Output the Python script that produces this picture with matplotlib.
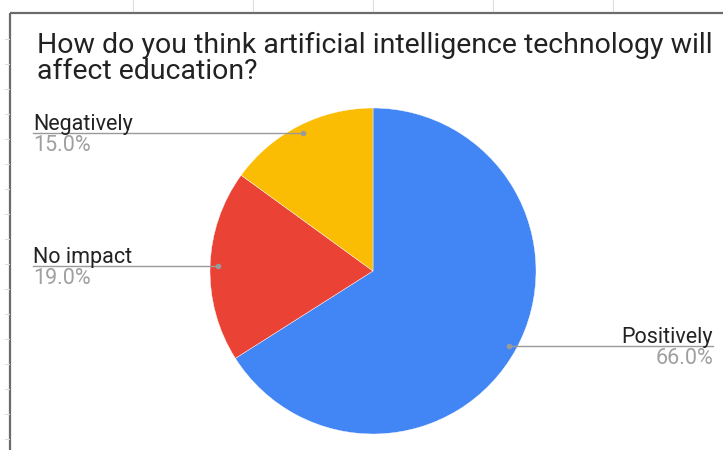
import numpy as np
import matplotlib
matplotlib.use("Agg")
from matplotlib import pyplot as plt

plt.rcParams['font.family'] = ['Roboto', 'DejaVu Sans']

# survey answers
categories = ["Positively", "No impact", "Negatively"]
shares = [66.0, 19.0, 15.0]
colors = ["#4285F4", "#EA4335", "#FBBC04"]
title = "How do you think artificial intelligence technology will\naffect education?"

W, H = 723, 450
fig = plt.figure(figsize=(W / 100, H / 100), dpi=100)
ax = fig.add_axes([0, 0, 1, 1])

# spreadsheet frame behind the chart
ax.plot([10, 10], [0, H - 13], color="#6b6b6b", lw=1.6, solid_capstyle="butt")
ax.plot([10, W], [H - 13, H - 13], color="#6b6b6b", lw=1.6, solid_capstyle="butt")
for y in np.arange(H - 39, 0, -25):
    ax.plot([5, 9], [y, y], color="#dcdcdc", lw=0.8)
for x in np.arange(133, W, 120):
    ax.plot([x, x], [H - 11, H], color="#dcdcdc", lw=0.8)

ax.text(37, H - 58, title, fontsize=20.5, color="#222222", va="center",
        ha="left", linespacing=0.95)

cx, cy, r = 373, H - 271, 163
wedges, _ = ax.pie(shares, colors=colors, startangle=90, counterclock=False,
                   center=(cx, cy), radius=r, frame=True,
                   wedgeprops=dict(edgecolor="white", linewidth=0.3))
ax.set_xlim(0, W)
ax.set_ylim(0, H)
ax.set_aspect("equal")
ax.axis("off")

# leader lines with label and percentage
label_x = {"Positively": 713, "No impact": 33, "Negatively": 33}
for w, name, share in zip(wedges, categories, shares):
    mid = np.deg2rad((w.theta1 + w.theta2) / 2)
    px = cx + 0.95 * r * np.cos(mid)
    py = cy + 0.95 * r * np.sin(mid)
    lx = label_x[name]
    ax.plot([px, lx], [py, py], color="#9a9a9a", lw=1.0)
    ax.plot(px, py, "o", color="#9a9a9a", ms=3)
    ha = "right" if lx > cx else "left"
    ax.text(lx, py + 3, name, fontsize=15.5, color="#222222", ha=ha, va="baseline")
    ax.text(lx, py - 2, f"{share:.1f}%", fontsize=15.5, color="#a0a0a0", ha=ha, va="top")

fig.savefig("out.png", dpi=100)
